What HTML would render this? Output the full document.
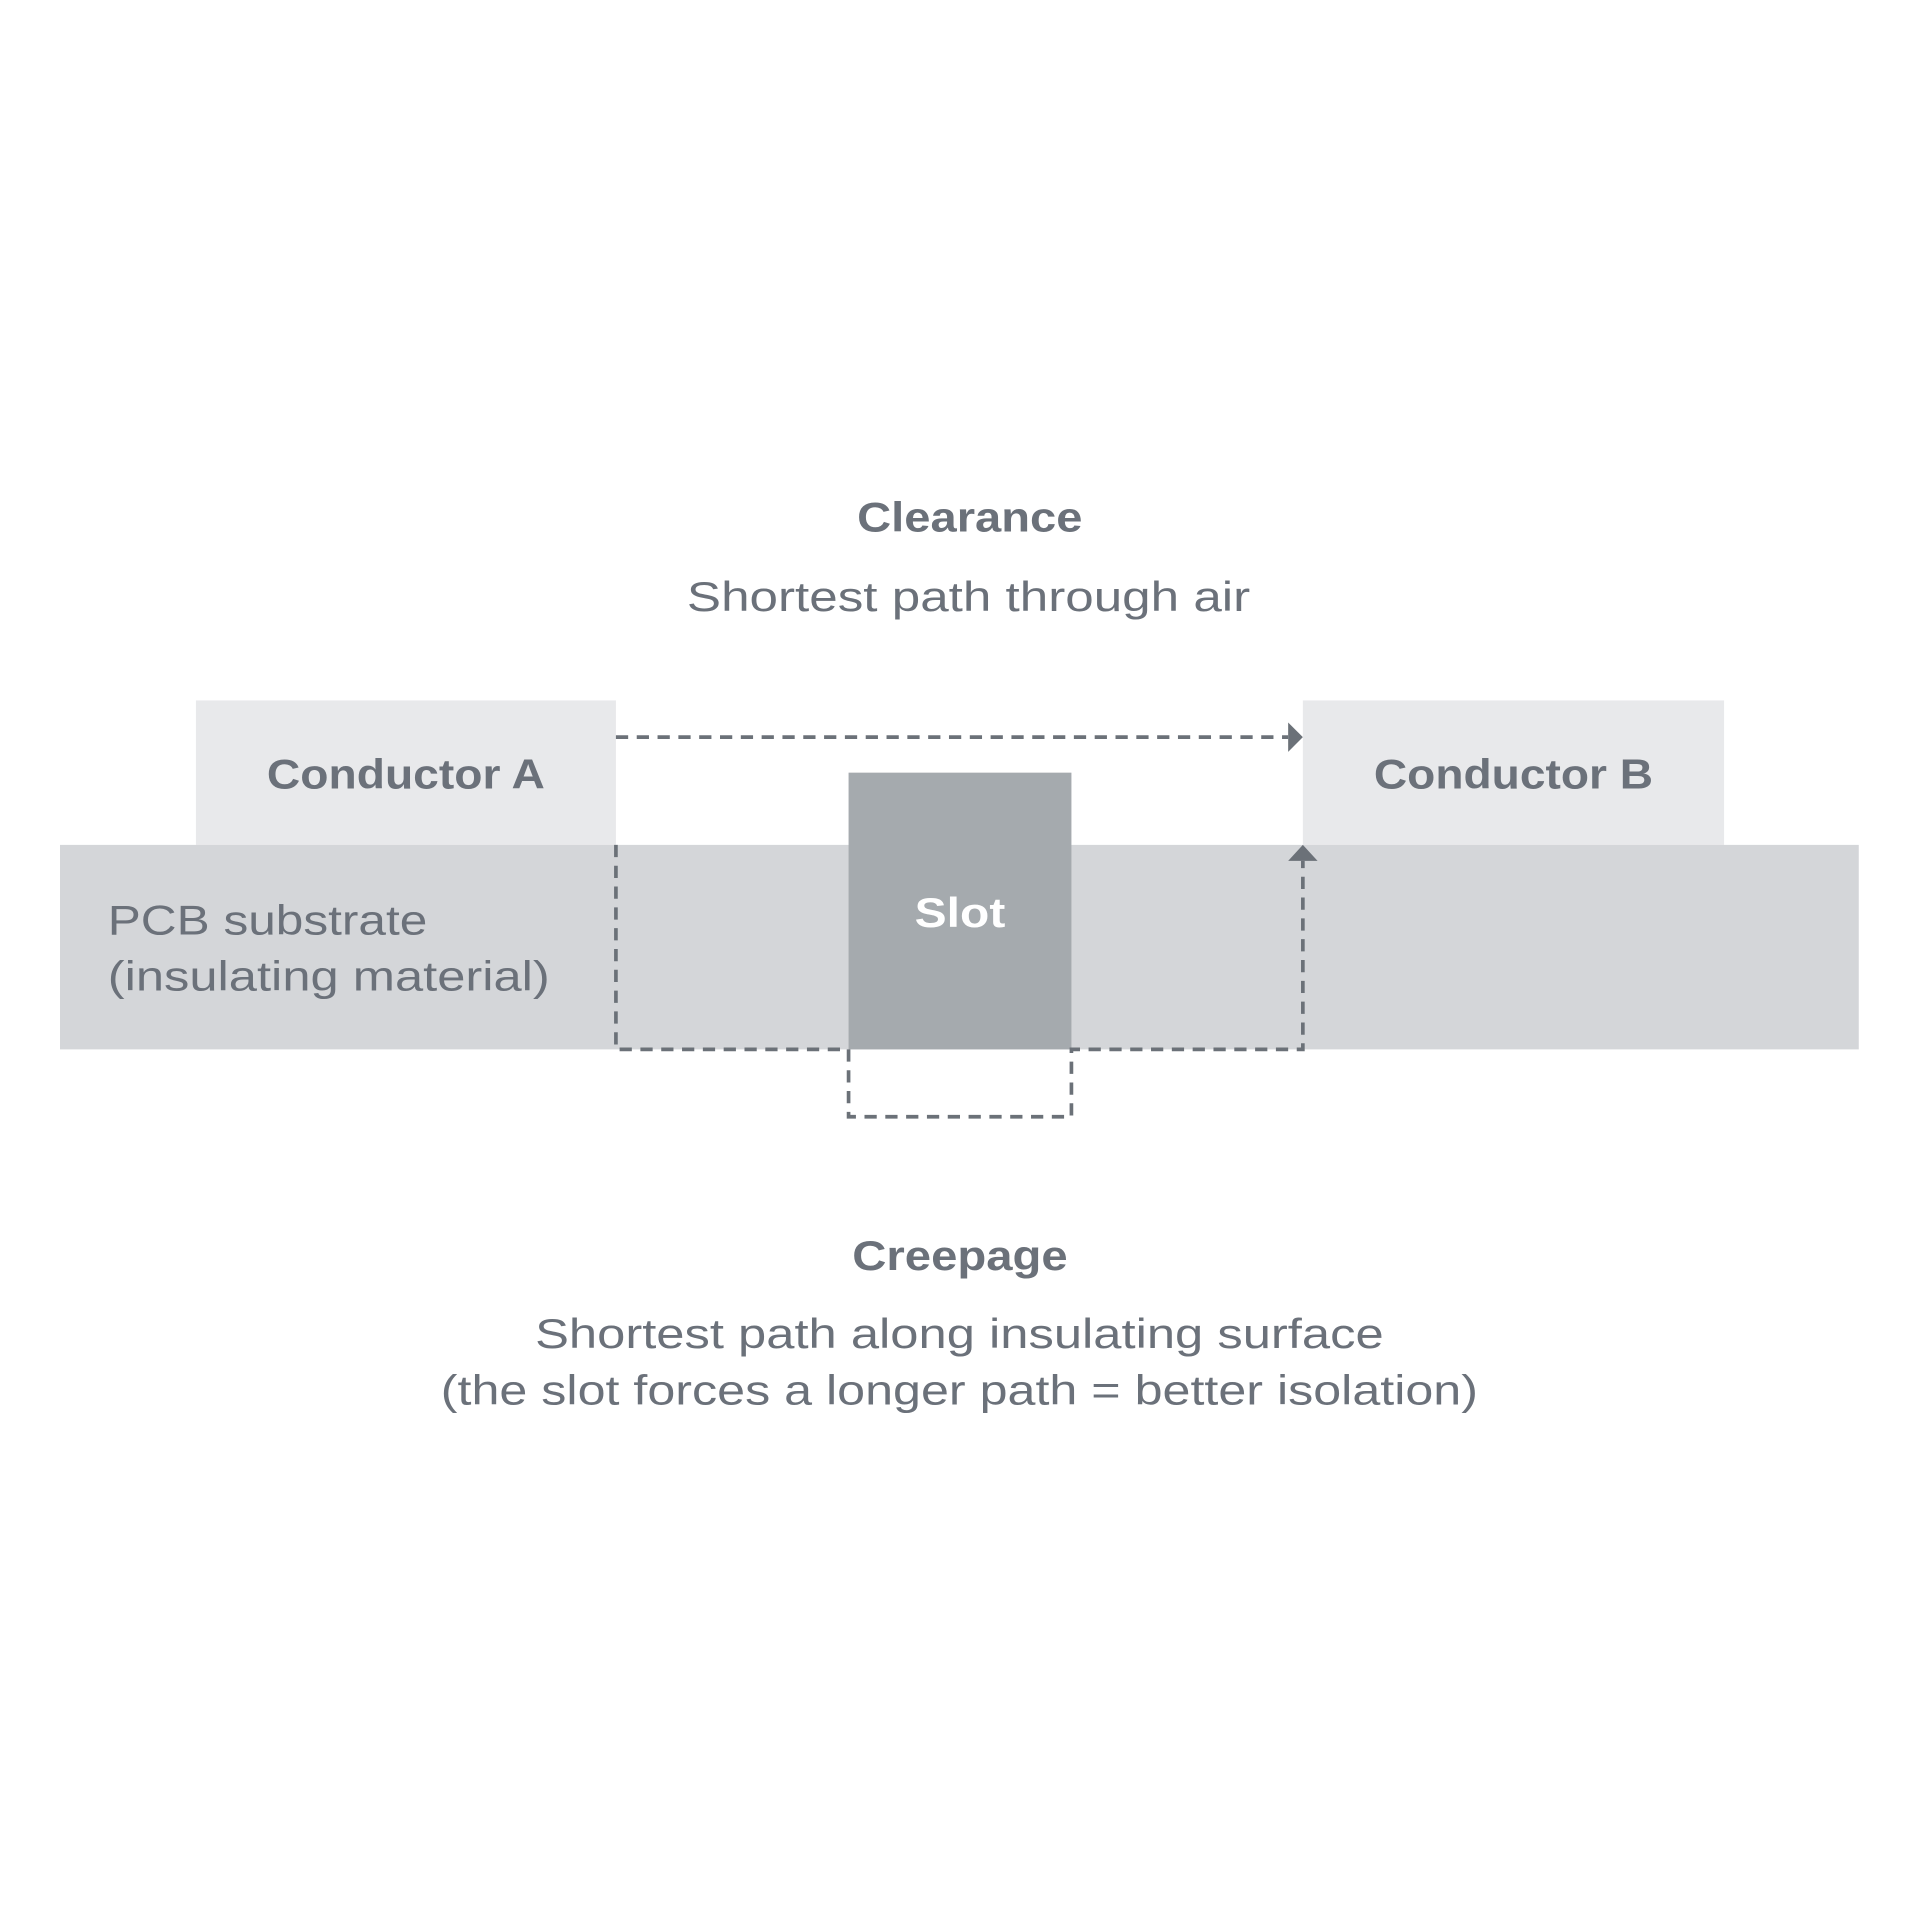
<!DOCTYPE html>
<html><head><meta charset="utf-8"><style>html,body{margin:0;padding:0;background:#fff}</style></head>
<body>
<svg width="1920" height="1920" viewBox="0 0 1568 1568" xmlns="http://www.w3.org/2000/svg" font-family="Liberation Sans, sans-serif">
<rect width="1568" height="1568" fill="#fff"/>
<rect x="160" y="572" width="343" height="118" fill="#e8e9eb"/>
<rect x="1064" y="572" width="344" height="118" fill="#e8e9eb"/>
<rect x="49" y="690" width="1469" height="167" fill="#d4d6d9"/>
<rect x="693" y="631" width="182" height="226" fill="#a5aaae"/>
<g fill="none" stroke="#6b7178" stroke-width="3" stroke-dasharray="10 7">
<path d="M503 602 H1052"/>
<path d="M503 690 V857 H693 V912 H875 V857 H1064 V703"/>
</g>
<path d="M1052 590 L1064 602 L1052 614 Z" fill="#6b7178"/>
<path d="M1052 703 L1064 690 L1076 703 Z" fill="#6b7178"/>
<g fill="#6b717a" font-size="34" lengthAdjust="spacingAndGlyphs">
<text x="700" y="434" font-weight="bold" textLength="184" lengthAdjust="spacingAndGlyphs">Clearance</text>
<text x="561" y="499" textLength="460" lengthAdjust="spacingAndGlyphs">Shortest path through air</text>
<text x="218" y="644" font-weight="bold" textLength="227" lengthAdjust="spacingAndGlyphs">Conductor A</text>
<text x="1122" y="644" font-weight="bold" textLength="228" lengthAdjust="spacingAndGlyphs">Conductor B</text>
<text x="696" y="1037" font-weight="bold" textLength="176" lengthAdjust="spacingAndGlyphs">Creepage</text>
<text x="437" y="1101" textLength="693" lengthAdjust="spacingAndGlyphs">Shortest path along insulating surface</text>
<text x="360" y="1147" textLength="847" lengthAdjust="spacingAndGlyphs">(the slot forces a longer path = better isolation)</text>
<text x="88" y="763" textLength="261" lengthAdjust="spacingAndGlyphs">PCB substrate</text>
<text x="88" y="809" textLength="361" lengthAdjust="spacingAndGlyphs">(insulating material)</text>
</g>
<text x="747" y="757" font-size="34" font-weight="bold" fill="#fff" textLength="74" lengthAdjust="spacingAndGlyphs">Slot</text>
</svg>
</body></html>
